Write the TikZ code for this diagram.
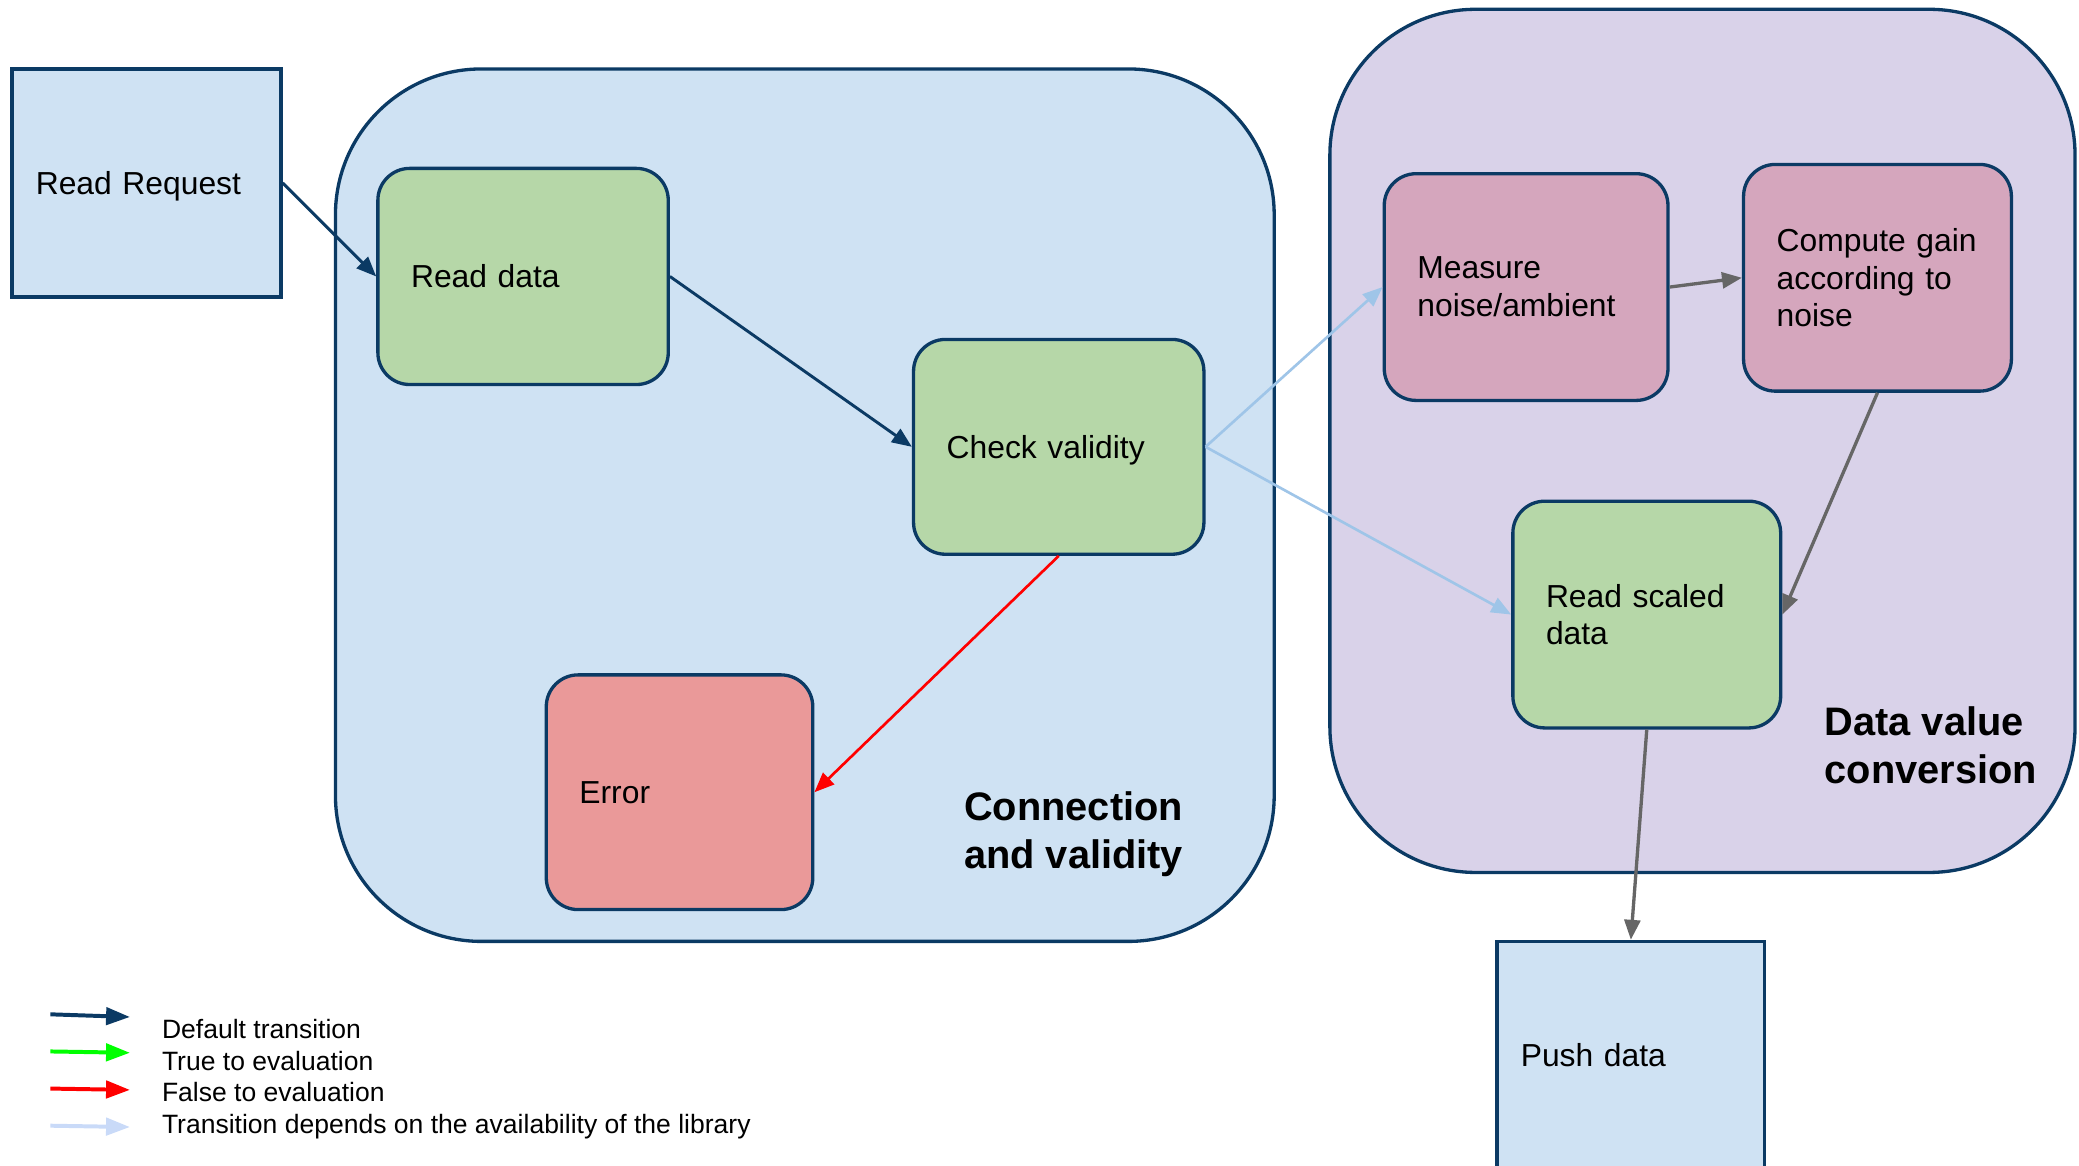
\documentclass[tikz,border=0pt]{standalone}
\usepackage{fontspec}
\setmainfont{Liberation Sans}
\usetikzlibrary{arrows.meta}

\definecolor{frame}{HTML}{0B3A64}
\definecolor{boxblue}{HTML}{CFE2F3}
\definecolor{boxpurple}{HTML}{D9D2E9}
\definecolor{boxgreen}{HTML}{B6D7A8}
\definecolor{boxpink}{HTML}{D5A6BD}
\definecolor{boxred}{HTML}{EA9999}
\definecolor{arrgrey}{HTML}{666666}
\definecolor{arrlib}{HTML}{9FC5E8}
\definecolor{arrliblegend}{HTML}{C9DAF8}
\definecolor{arrtrue}{HTML}{00FF00}
\definecolor{arrfalse}{HTML}{FF0000}

\begin{document}
\begin{tikzpicture}[x=1pt, y=-1pt,
  basefont/.style={font=\fontsize{24}{28.5}\selectfont},
  sqbox/.style={draw=frame, line width=2.5pt, rectangle, inner xsep=18pt,
    inner ysep=0pt, align=left, basefont},
  rbox/.style={draw=frame, line width=2.5pt, rectangle, rounded corners=24pt,
    inner xsep=25pt, inner ysep=0pt, align=left, basefont},
  oneline/.style={text depth=0pt},
  group/.style={draw=frame, line width=2.5pt, rectangle, rounded corners=110pt},
  grouplabel/.style={anchor=base west, inner sep=0pt, align=left,
    font=\fontsize{30}{36}\selectfont\bfseries},
  legendtext/.style={anchor=base west, inner sep=0pt,
    font=\fontsize{20}{24}\selectfont},
  defarrow/.style={draw=frame, line width=2.2pt,
    -{Triangle[length=15pt,width=12pt]}},
  falsearrow/.style={draw=arrfalse, line width=2pt,
    -{Triangle[length=15pt,width=12pt]}},
  libarrow/.style={draw=arrlib, line width=2pt,
    -{Triangle[length=15pt,width=12pt]}},
  greyarrow/.style={draw=arrgrey, line width=2.5pt,
    -{Triangle[length=15pt,width=12pt]}},
  legendarrow/.style={line width=3pt, -{Triangle[length=18pt,width=13pt]}},
]
\useasboundingbox (0,0) rectangle (1568,879);

% group containers
\node[group, fill=boxblue, minimum width=708, minimum height=658]
  (conngroup) at (607,381) {};
\node[group, fill=boxpurple, minimum width=562, minimum height=651]
  (convgroup) at (1284,332.5) {};

% plain rectangles
\node[sqbox, oneline, fill=boxblue, minimum width=203, minimum height=172,
  text width=167] (readreq) at (110.5,138) {Read Request};
\node[sqbox, oneline, fill=boxblue, minimum width=202, minimum height=172,
  text width=166] (push) at (1230,796) {Push data};

% rounded steps
\node[rbox, oneline, fill=boxgreen, minimum width=219, minimum height=163,
  text width=169] (readdata) at (394.5,208.5) {Read data};
\node[rbox, oneline, fill=boxgreen, minimum width=219, minimum height=162,
  text width=169] (check) at (798.5,337) {Check validity};
\node[rbox, oneline, fill=boxred, minimum width=201, minimum height=177,
  text width=151] (error) at (512.5,597.5) {Error};
\node[rbox, fill=boxpink, minimum width=214, minimum height=171,
  text width=164] (measure) at (1151,216.5) {Measure\\noise/ambient};
\node[rbox, fill=boxpink, minimum width=202, minimum height=171,
  text width=152] (compute) at (1416,209.5) {Compute gain\\according to\\noise};
\node[rbox, fill=boxgreen, minimum width=202, minimum height=171,
  text width=152] (scaled) at (1242,463.5) {Read scaled\\data};

% group titles (anchored on the baseline of the last line)
\node[grouplabel] (conntitle) at (727,655) {Connection\\and validity};
\node[grouplabel] (convtitle) at (1376,591) {Data value\\conversion};

% transitions
\draw[defarrow] (readreq.east) -- (readdata.west);
\draw[defarrow] (readdata.east) -- (check.west);
\draw[falsearrow] (check.south) -- (error.east);
\draw[libarrow] (check.east) -- (measure.west);
\draw[libarrow] (check.east) -- (scaled.west);
\draw[greyarrow] (measure.east) -- (compute.west);
\draw[greyarrow] (compute.south) -- (scaled.east);
\draw[greyarrow] (scaled.south) -- (push.north);

% legend
\coordinate (ka) at (38,765);  \coordinate (kb) at (98,767);
\coordinate (kc) at (38,793);  \coordinate (kd) at (98,794);
\coordinate (ke) at (38,821);  \coordinate (kf) at (98,822);
\coordinate (kg) at (38,849);  \coordinate (kh) at (98,850);
\draw[legendarrow, draw=frame, fill=frame] (ka) -- (kb);
\draw[legendarrow, draw=arrtrue, fill=arrtrue] (kc) -- (kd);
\draw[legendarrow, draw=arrfalse, fill=arrfalse] (ke) -- (kf);
\draw[legendarrow, draw=arrliblegend, fill=arrliblegend] (kg) -- (kh);
\node[legendtext] (leg1) at (122,783) {Default transition};
\node[legendtext] (leg2) at (122,807) {True to evaluation};
\node[legendtext] (leg3) at (122,831) {False to evaluation};
\node[legendtext] (leg4) at (122,855) {Transition depends on the availability of the library};
\end{tikzpicture}
\end{document}
